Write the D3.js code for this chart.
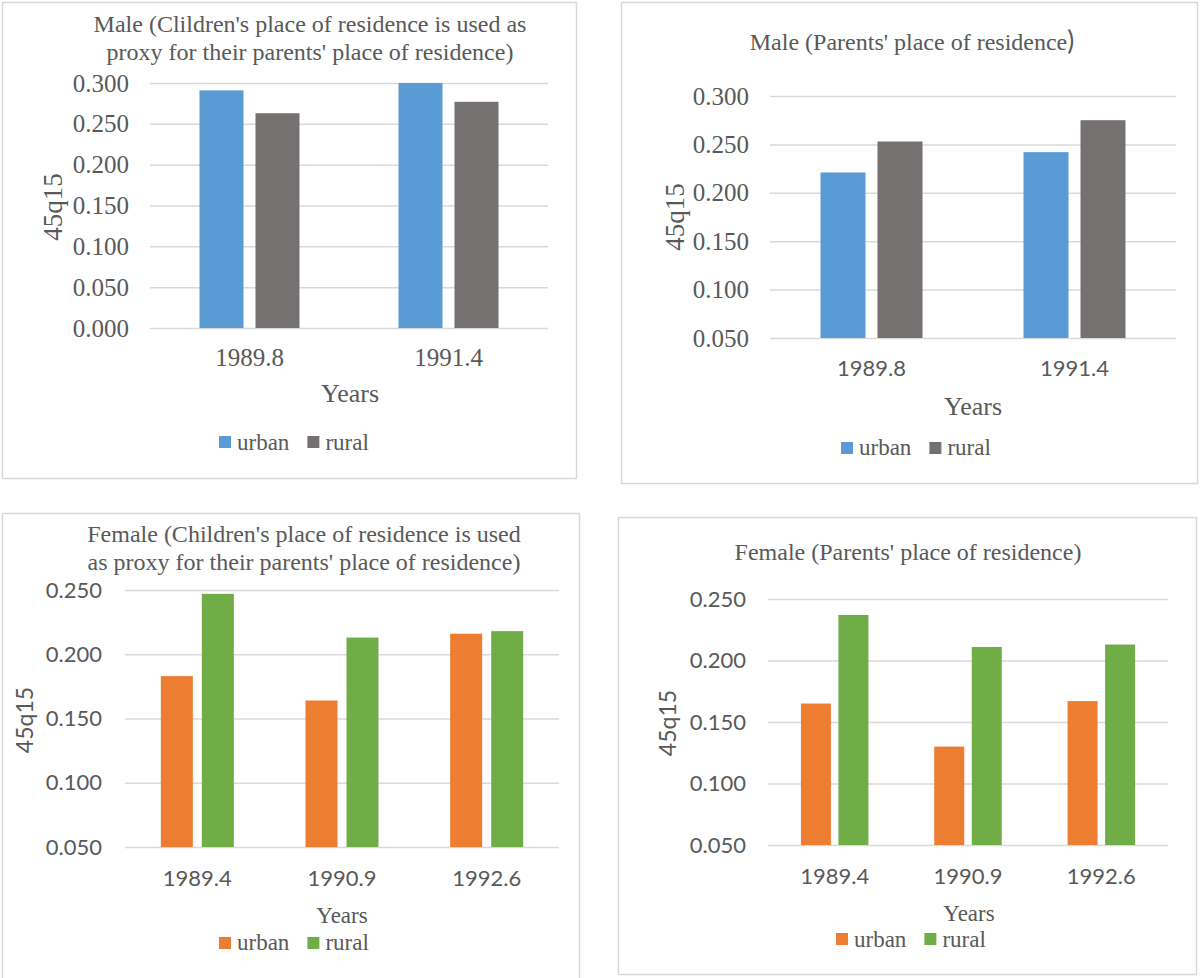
<!DOCTYPE html>
<html>
<head>
<meta charset="utf-8">
<script src="https://cdn.jsdelivr.net/npm/d3@7"></script>
<style>
  body { margin: 0; background: #fff; }
  svg { display: block; }
</style>
</head>
<body>
<svg id="chart" width="1200" height="978"></svg>
<script>
// Data
const maleYears = ["1989.8", "1991.4"];
const femaleYears = ["1989.4", "1990.9", "1992.6"];

const maleChildUrban = [0.291, 0.300];
const maleChildRural = [0.263, 0.277];
const maleParentUrban = [0.221, 0.242];
const maleParentRural = [0.253, 0.275];

const femaleChildUrban = [0.183, 0.164, 0.216];
const femaleChildRural = [0.247, 0.213, 0.218];
const femaleParentUrban = [0.165, 0.130, 0.167];
const femaleParentRural = [0.237, 0.211, 0.213];

const maleChildTicks = [0, 0.05, 0.1, 0.15, 0.2, 0.25, 0.3];
const maleParentTicks = [0.05, 0.1, 0.15, 0.2, 0.25, 0.3];
const femaleTicks = [0.05, 0.1, 0.15, 0.2, 0.25];

const seriesNames = ["urban", "rural"];

const serif = "Liberation Serif, serif";
const sans = "Lato, Open Sans, sans-serif";
const textColor = "#595959";
const gridColor = "#d9d9d9";

const svg = d3.select("#chart");

function drawPanel(p) {
  const g = svg.append("g");

  // frame
  g.append("rect")
    .attr("x", p.box[0] + 0.5).attr("y", p.box[1] + 0.5)
    .attr("width", p.box[2]).attr("height", p.box[3])
    .attr("fill", "#fff").attr("stroke", gridColor).attr("stroke-width", 1.5);

  // title
  const title = g.append("text")
    .attr("text-anchor", "middle")
    .attr("fill", textColor)
    .attr("font-family", serif)
    .attr("font-size", 24);
  p.title.forEach(function (line, i) {
    title.append("tspan").attr("x", p.titleX).attr("y", p.titleY[i]).text(line);
  });
  if (p.titleTail) {
    title.append("tspan").attr("font-family", sans).attr("font-size", 26).text(p.titleTail);
  }

  const x = d3.scaleBand().domain(p.cats).range([p.plot.l, p.plot.r]);
  const y = d3.scaleLinear().domain(p.domain).range([p.plot.b, p.plot.t]);

  // y axis with gridlines
  const yAxis = g.append("g")
    .attr("transform", "translate(" + p.plot.l + ",0)")
    .call(d3.axisLeft(y)
      .tickValues(p.ticks)
      .tickFormat(d3.format(".3f"))
      .tickSize(-(p.plot.r - p.plot.l))
      .tickPadding(p.tickPad))
    .attr("font-family", p.tickFont)
    .attr("font-size", p.tickSize);
  yAxis.select(".domain").remove();
  yAxis.selectAll("line").attr("stroke", gridColor).attr("stroke-width", 1.5);
  yAxis.selectAll("text").attr("fill", textColor);

  // x axis labels
  const xAxis = g.append("g")
    .attr("transform", "translate(0," + p.plot.b + ")")
    .call(d3.axisBottom(x).tickSize(0).tickPadding(0))
    .attr("font-family", p.xFont)
    .attr("font-size", p.xSize);
  xAxis.select(".domain").remove();
  xAxis.selectAll("text")
    .attr("y", p.xBase - p.plot.b).attr("dy", null)
    .attr("fill", textColor);

  // bars
  const rows = p.cats.map(function (c, i) {
    return { cat: c, urban: p.urban[i], rural: p.rural[i] };
  });
  seriesNames.forEach(function (s, si) {
    g.append("g").selectAll("rect")
      .data(rows)
      .join("rect")
      .attr("x", function (d) {
        const c = x(d.cat) + x.bandwidth() / 2;
        return si === 0 ? c - p.gap / 2 - p.bw : c + p.gap / 2;
      })
      .attr("width", p.bw)
      .attr("y", function (d) { return y(d[s]); })
      .attr("height", function (d) { return y(p.domain[0]) - y(d[s]); })
      .attr("fill", p.colors[si]);
  });

  // y label
  g.append("text")
    .attr("transform", "translate(" + p.yLab.x + "," + p.yLab.y + ") rotate(-90)")
    .attr("text-anchor", "middle")
    .attr("dominant-baseline", "central")
    .attr("fill", textColor)
    .attr("font-family", p.yLab.font)
    .attr("font-size", p.yLab.size)
    .text("45q15");

  // x title
  g.append("text")
    .attr("x", p.years.x).attr("y", p.years.y)
    .attr("text-anchor", "middle")
    .attr("fill", textColor)
    .attr("font-family", serif)
    .attr("font-size", p.years.size)
    .text("Years");

  // legend
  let lx = p.legend.x;
  seriesNames.forEach(function (s, si) {
    g.append("rect")
      .attr("x", lx).attr("y", p.legend.sqY)
      .attr("width", p.legend.sq).attr("height", p.legend.sq)
      .attr("fill", p.colors[si]);
    const t = g.append("text")
      .attr("x", lx + p.legend.sq + 6).attr("y", p.legend.y)
      .attr("fill", textColor)
      .attr("font-family", serif)
      .attr("font-size", 23)
      .text(s);
    lx = lx + p.legend.sq + 6 + t.node().getComputedTextLength() + 18;
  });
}

const blueGray = ["#5b9bd5", "#767171"];
const orangeGreen = ["#ed7d31", "#70ad47"];

drawPanel({
  box: [2, 2, 574, 476],
  title: ["Male (Clildren's place of residence is used as", "proxy for their parents' place of residence)"],
  titleX: 310, titleY: [32, 60],
  cats: maleYears, urban: maleChildUrban, rural: maleChildRural,
  domain: [0, 0.3], ticks: maleChildTicks,
  plot: { l: 150, r: 548, t: 83, b: 328 },
  tickFont: serif, tickSize: 25, tickPad: 21,
  xFont: serif, xSize: 25, xBase: 366,
  bw: 44, gap: 12, colors: blueGray,
  yLab: { x: 53, y: 207, font: serif, size: 27 },
  years: { x: 350, y: 402, size: 26 },
  legend: { x: 219, sqY: 436, sq: 12, y: 450 }
});

drawPanel({
  box: [621, 2, 576, 481],
  title: ["Male (Parents' place of residence"], titleTail: ")",
  titleX: 912, titleY: [50],
  cats: maleYears, urban: maleParentUrban, rural: maleParentRural,
  domain: [0.05, 0.3], ticks: maleParentTicks,
  plot: { l: 770, r: 1176, t: 96, b: 338 },
  tickFont: serif, tickSize: 25, tickPad: 21,
  xFont: sans, xSize: 22, xBase: 376,
  bw: 45, gap: 12, colors: blueGray,
  yLab: { x: 675, y: 217, font: serif, size: 27 },
  years: { x: 973, y: 415, size: 26 },
  legend: { x: 841, sqY: 442, sq: 12, y: 455 }
});

drawPanel({
  box: [2, 513, 577, 470],
  title: ["Female (Children's place of residence is used", "as proxy for their parents' place of residence)"],
  titleX: 304, titleY: [542, 570],
  cats: femaleYears, urban: femaleChildUrban, rural: femaleChildRural,
  domain: [0.05, 0.25], ticks: femaleTicks,
  plot: { l: 125, r: 559, t: 590, b: 847 },
  tickFont: sans, tickSize: 22, tickPad: 23,
  xFont: sans, xSize: 22, xBase: 886,
  bw: 32, gap: 9, colors: orangeGreen,
  yLab: { x: 24, y: 720, font: sans, size: 23 },
  years: { x: 342, y: 923, size: 23 },
  legend: { x: 219, sqY: 937, sq: 12, y: 950 }
});

drawPanel({
  box: [618, 517, 578, 457],
  title: ["Female (Parents' place of residence)"],
  titleX: 908, titleY: [560],
  cats: femaleYears, urban: femaleParentUrban, rural: femaleParentRural,
  domain: [0.05, 0.25], ticks: femaleTicks,
  plot: { l: 768, r: 1168, t: 599, b: 845 },
  tickFont: sans, tickSize: 22, tickPad: 22,
  xFont: sans, xSize: 22, xBase: 884,
  bw: 30, gap: 7.5, colors: orangeGreen,
  yLab: { x: 667, y: 723, font: sans, size: 23 },
  years: { x: 969, y: 921, size: 23 },
  legend: { x: 836, sqY: 933, sq: 12, y: 947 }
});
</script>
</body>
</html>
